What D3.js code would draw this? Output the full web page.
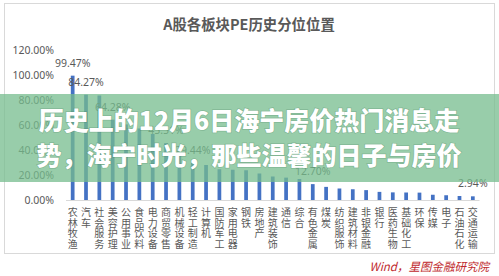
<!DOCTYPE html>
<html>
<head>
<meta charset="utf-8">
<script src="https://cdn.jsdelivr.net/npm/d3@7"></script>
<style>
  html, body { margin: 0; padding: 0; background: #fff; }
  svg { display: block; font-family: "Noto Sans CJK SC", "Noto Sans", sans-serif; }
</style>
</head>
<body>
<div id="chart"></div>
<script>
// sectors, sorted by PE percentile
const categories = ['农林牧渔', '汽车', '社会服务', '美容护理', '公用事业', '食品饮料', '电力设备',
  '商贸零售', '机械设备', '轻工制造', '计算机', '国防军工', '家用电器', '钢铁', '房地产', '建筑装饰',
  '通信', '综合', '有色金属', '煤炭', '纺织服饰', '建筑材料', '非银金融', '银行', '医药生物',
  '基础化工', '环保', '传媒', '电子', '石油石化', '交通运输'];
const values = [99.47, 84.27, 83.6, 64.28, 60.5, 57.2, 52.8, 45.51, 37.5, 29.44, 28.0, 24.6,
  24.2, 23.8, 21.2, 18.8, 17.9, 16.8, 12.70, 10.5, 9.2, 8.6, 7.9, 6.5, 6.1, 6.0, 5.9, 4.2,
  3.8, 3.2, 2.94];
// bars that carry a value label
const labelled = ['农林牧渔', '汽车', '美容护理', '商贸零售', '轻工制造', '有色金属', '交通运输'];
const yTicks = [0, 20, 40, 60, 80, 100, 120];

const title = 'A股各板块PE历史分位位置';
const source = 'Wind，星图金融研究院';
const banner = ['历史上的12月6日海宁房价热门消息走', '势，海宁时光，那些温馨的日子与房价'];

const width = 499, height = 276;
const margin = {top: 50, right: 20, bottom: 76, left: 66};
const grey = '#595959';

const svg = d3.select('#chart').append('svg')
  .attr('width', width)
  .attr('height', height);

// chart frame
svg.append('rect')
  .attr('x', 4.5).attr('y', 3.5)
  .attr('width', 490).attr('height', 250)
  .attr('fill', '#fff')
  .attr('stroke', '#d9d9d9');

svg.append('text')
  .attr('x', 249).attr('y', 30)
  .attr('text-anchor', 'middle')
  .attr('font-size', 14.4)
  .attr('font-weight', 700)
  .attr('fill', grey)
  .text(title);

const x = d3.scaleBand()
  .domain(categories)
  .range([margin.left, 479.5])
  .paddingInner(0.72)
  .paddingOuter(0.36);

const y = d3.scaleLinear()
  .domain([0, 120])
  .range([200, margin.top]);

const yAxis = svg.append('g')
  .attr('transform', 'translate(56,0)')
  .call(d3.axisLeft(y).tickValues(yTicks).tickSize(0).tickPadding(2)
    .tickFormat(d => d.toFixed(2) + '%'));
yAxis.select('.domain').remove();
yAxis.selectAll('text')
  .attr('font-size', 10.5)
  .attr('fill', grey)
  .style('font-family', '"Noto Sans", sans-serif');

// baseline
svg.append('line')
  .attr('x1', margin.left).attr('x2', 479.5)
  .attr('y1', y(0) + 0.5).attr('y2', y(0) + 0.5)
  .attr('stroke', '#d9d9d9');

svg.selectAll('.bar')
  .data(categories)
  .enter().append('rect')
  .attr('class', 'bar')
  .attr('x', d => x(d))
  .attr('width', x.bandwidth())
  .attr('y', (d, i) => y(values[i]))
  .attr('height', (d, i) => y(0) - y(values[i]))
  .attr('fill', '#4472c4');

svg.selectAll('.value')
  .data(categories.filter(d => labelled.includes(d)))
  .enter().append('text')
  .attr('class', 'value')
  .attr('x', d => x(d) + x.bandwidth() / 2)
  .attr('y', d => y(values[categories.indexOf(d)]) - 9)
  .attr('text-anchor', 'middle')
  .attr('font-size', 10.5)
  .attr('fill', grey)
  .style('font-family', '"Noto Sans", sans-serif')
  .text(d => values[categories.indexOf(d)].toFixed(2) + '%');

// category names, stacked vertically
const catText = svg.selectAll('.cat')
  .data(categories)
  .enter().append('text')
  .attr('class', 'cat')
  .attr('text-anchor', 'middle')
  .attr('font-size', 10)
  .attr('fill', grey);
catText.selectAll('tspan')
  .data(d => Array.from(d).map(c => ({c, cx: x(d) + x.bandwidth() / 2})))
  .enter().append('tspan')
  .attr('x', d => d.cx)
  .attr('y', (d, i) => 216 + i * 10.5)
  .text(d => d.c);

svg.append('text')
  .attr('x', 489).attr('y', 271)
  .attr('text-anchor', 'end')
  .attr('font-size', 11.5)
  .attr('font-style', 'italic')
  .attr('fill', '#c0282d')
  .text(source);

// overlay banner
svg.append('rect')
  .attr('x', 0).attr('y', 94)
  .attr('width', width).attr('height', 88)
  .attr('fill', 'rgb(118,188,142)')
  .attr('opacity', 0.75);

svg.selectAll('.banner')
  .data(banner)
  .enter().append('text')
  .attr('class', 'banner')
  .attr('x', 249)
  .attr('y', (d, i) => 130 + i * 35)
  .attr('text-anchor', 'middle')
  .attr('font-size', 25)
  .attr('font-weight', 900)
  .attr('fill', '#fff')
  .style('paint-order', 'stroke')
  .attr('stroke', 'rgba(60,110,80,0.25)')
  .attr('stroke-width', 1.5)
  .text(d => d);
</script>
</body>
</html>
